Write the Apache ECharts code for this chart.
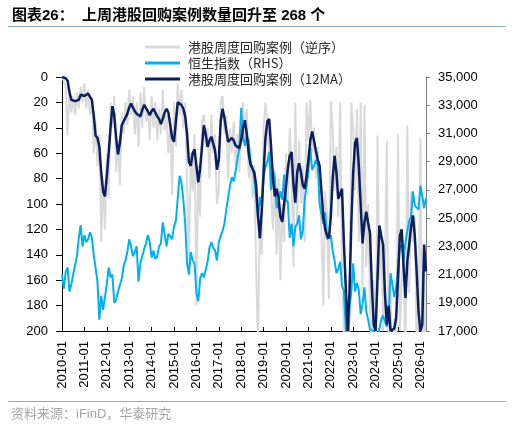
<!DOCTYPE html>
<html><head><meta charset="utf-8">
<script src="https://cdn.jsdelivr.net/npm/echarts@6/dist/echarts.min.js"></script>
<style>html,body{margin:0;padding:0;background:#fff}#c{width:519px;height:435px}</style>
</head><body><div id="c"></div>
<script>
// Month categories 2010-01 .. 2026-04
const months = [];
for (let y = 2010; y <= 2026; y++) {
  for (let m = 1; m <= 12; m++) {
    if (y === 2026 && m > 4) break;
    months.push(y + '-' + String(m).padStart(2, '0'));
  }
}

const seriesNames = ['港股周度回购案例（逆序）', '恒生指数（RHS）', '港股周度回购案例（12MA）'];

// weekly buyback cases (reverse axis), sampled monthly
const buybackCases = [
  0, 3, 8, 46, 10, 28, 15, 30, 12, 25, 8, 20,
  5, 25, 10, 30, 18, 60, 35, 70, 45, 130, 80, 120,
  60, 95, 20, 40, 15, 75, 50, 85, 30, 45, 20, 38,
  10, 30, 15, 45, 20, 55, 12, 40, 8, 35, 25, 50,
  15, 40, 20, 50, 25, 45, 10, 42, 30, 60, 35, 93,
  20, 55, 5, 30, 10, 40, 20, 85, 150, 60, 90, 45,
  180, 70, 110, 35, 30, 55, 40, 80, 30, 60, 45, 100,
  90, 20, 15, 45, 30, 80, 40, 60, 35, 70, 45, 75,
  30, 20, 50, 25, 80, 60, 95, 70, 150, 210, 110, 140,
  40, 20, 35, 60, 90, 120, 75, 140, 80, 160, 100, 130,
  60, 100, 40, 80, 150, 20, 120, 50, 100, 70, 130, 20,
  50, 18, 60, 40, 80, 55, 95, 120, 180, 90, 110, 175,
  19, 40, 90, 55, 110, 20, 150, 200, 230, 180, 210, 20,
  40, 90, 25, 130, 20, 170, 22, 150, 100, 180, 220, 160,
  240, 46, 160, 120, 200, 150, 50, 230, 160, 260, 190, 220,
  45, 200, 160, 140, 230, 38, 170, 90, 130, 110, 220, 190,
  48, 230, 140, 268
];

// Hang Seng Index (right axis)
const hsi = [
  21000, 20000, 21200, 21500, 19800, 20300, 21000, 20900, 22300, 23600, 24500, 23000,
  23800, 23300, 23500, 24000, 23600, 22400, 22400, 20500, 17800, 19500, 18500, 18400,
  20300, 21500, 20800, 21000, 19000, 19200, 19800, 19700, 20700, 21600, 22000, 22600,
  23500, 23000, 22300, 22600, 23000, 20500, 21800, 21700, 22800, 23200, 23800, 23300,
  22200, 22700, 22100, 22300, 23000, 23200, 24700, 24800, 23000, 23900, 23900, 23500,
  24400, 24800, 24800, 28000, 27500, 26300, 24600, 21800, 21000, 22600, 22000, 21800,
  19700, 19100, 20700, 21100, 20800, 20800, 21900, 22900, 23300, 22900, 22700, 22000,
  23300, 23700, 24100, 24600, 25600, 25700, 27300, 27900, 27600, 28300, 29200, 29900,
  32800, 30800, 30100, 30800, 30500, 29000, 28600, 27900, 27800, 25000, 26500, 25800,
  27900, 28600, 29000, 29700, 27000, 28500, 27800, 25700, 26100, 26900, 26300, 28100,
  26300, 26100, 23600, 24600, 23000, 24400, 24600, 25200, 23500, 24100, 26300, 27200,
  28300, 30000, 28400, 28700, 29100, 28800, 26000, 25900, 24600, 25400, 23500, 23400,
  23800, 22700, 22000, 21100, 21400, 21900, 20200, 19900, 17200, 14700, 18600, 19800,
  21800, 19800, 20400, 19900, 18200, 18900, 20100, 18400, 17800, 17100, 17000, 17000,
  15500, 16500, 16500, 17800, 18100, 17700, 17300, 18000, 21100, 20300, 19400, 20100,
  20200, 22900, 23100, 22100, 23300, 24100, 24800, 25100, 26900, 25900, 25900, 25600,
  27300, 26600, 25700, 26400
];

// 12-period moving average of buyback cases
const buybackMA = [
  0, 0, 1, 3, 12, 18, 19, 19, 20, 18, 14, 15,
  15, 14, 13, 14, 18, 30, 46, 48, 55, 75, 90, 94,
  78, 60, 40, 23, 30, 48, 61, 52, 38, 35, 32, 29,
  24, 21, 22, 27, 29, 30, 31, 26, 22, 23, 27, 30,
  27, 25, 28, 31, 33, 37, 33, 28, 25, 28, 38, 48,
  51, 35, 20, 19, 22, 25, 31, 45, 67, 70, 60, 57,
  70, 83, 72, 55, 38, 45, 55, 50, 47, 48, 58, 73,
  65, 35, 25, 32, 42, 51, 52, 48, 50, 54, 55, 56,
  50, 40, 34, 45, 60, 69, 72, 75, 85, 110, 127, 105,
  75, 48, 35, 33, 55, 80, 94, 88, 95, 110, 114, 100,
  86, 72, 62, 59, 85, 99, 75, 68, 75, 85, 88, 78,
  65, 50, 43, 50, 58, 65, 70, 90, 110, 120, 125, 127,
  110, 80, 62, 75, 96, 92, 88, 130, 165, 200, 170, 115,
  75, 52, 48, 70, 100, 131, 115, 106, 115, 123, 165, 195,
  200, 160, 117, 125, 132, 170, 195, 180, 200, 200, 198, 190,
  159, 125, 120, 150, 174, 145, 132, 118, 109, 125, 153, 185,
  200, 195, 132, 153
];

const leftTicks = {min: 0, max: 200, step: 20};
const rightTicks = {min: 17000, max: 35000, step: 2000};

const FONT = '"Liberation Sans", Arial, "Noto Sans CJK SC", sans-serif';
const CJK = '"Noto Sans CJK SC", "Liberation Sans", sans-serif';
const yearTick = (i) => i % 12 === 0;

const chart = echarts.init(document.getElementById('c'), null, {renderer: 'canvas'});
chart.setOption({
  animation: false,
  backgroundColor: '#fff',
  textStyle: {fontFamily: FONT},
  grid: {left: 62, right: 93, top: 77, bottom: 104, containLabel: false},
  legend: {
    orient: 'vertical', left: 140, top: 34, itemWidth: 35, itemHeight: 3, itemGap: 0,
    icon: 'rect', data: seriesNames,
    textStyle: {fontSize: 13, color: '#262626', lineHeight: 16, fontFamily: CJK, padding: [0, 0, 0, 3]}
  },
  xAxis: {
    type: 'category', data: months, boundaryGap: false,
    axisLine: {onZero: false, lineStyle: {color: '#000', width: 1}},
    axisTick: {inside: true, length: 4, interval: yearTick, lineStyle: {color: '#000'}},
    axisLabel: {interval: yearTick, rotate: 90, margin: 10, fontSize: 13, color: '#000', fontFamily: FONT},
    splitLine: {show: false}
  },
  yAxis: [
    {
      type: 'value', inverse: true, min: leftTicks.min, max: leftTicks.max, interval: leftTicks.step,
      position: 'left',
      axisLine: {show: true, lineStyle: {color: '#000'}},
      axisTick: {show: true, length: 6, lineStyle: {color: '#000'}},
      axisLabel: {fontSize: 13, color: '#000', margin: 14, fontFamily: FONT},
      splitLine: {show: false}
    },
    {
      type: 'value', min: rightTicks.min, max: rightTicks.max, interval: rightTicks.step,
      position: 'right',
      axisLine: {show: true, lineStyle: {color: '#808080'}},
      axisTick: {show: true, length: 4, lineStyle: {color: '#808080'}},
      axisLabel: {fontSize: 13, color: '#000', margin: 12, fontFamily: FONT,
        formatter: (v) => v.toLocaleString('en-US')},
      splitLine: {show: false}
    }
  ],
  series: [
    {name: seriesNames[0], type: 'line', yAxisIndex: 0, data: buybackCases, symbol: 'none',
      clip: true, lineStyle: {color: '#D9D9D9', width: 2}, itemStyle: {color: '#D9D9D9'}, z: 1},
    {name: seriesNames[1], type: 'line', yAxisIndex: 1, data: hsi, symbol: 'none',
      clip: true, lineStyle: {color: '#00B0F0', width: 2}, itemStyle: {color: '#00B0F0'}, z: 2},
    {name: seriesNames[2], type: 'line', yAxisIndex: 0, data: buybackMA, symbol: 'none',
      clip: true, lineStyle: {color: '#0B1F5C', width: 2.5}, itemStyle: {color: '#0B1F5C'}, z: 3}
  ],
  graphic: [
    {type: 'text', x: 12, y: 16, style: {text: '图表26：', fontSize: 15, fontWeight: 'bold',
      fontFamily: FONT, fill: '#000', verticalAlign: 'middle'}},
    {type: 'text', x: 82, y: 16, style: {text: '上周港股回购案例数量回升至 268 个', fontSize: 15, fontWeight: 'bold',
      fontFamily: FONT, fill: '#000', verticalAlign: 'middle'}},
    {type: 'line', shape: {x1: 8, y1: 26.5, x2: 506, y2: 26.5}, style: {stroke: '#8EAACB', lineWidth: 1}},
    {type: 'line', shape: {x1: 8, y1: 401.5, x2: 506, y2: 401.5}, style: {stroke: '#8EAACB', lineWidth: 1}},
    {type: 'text', x: 11, y: 414, style: {text: '资料来源：iFinD，华泰研究', fontSize: 13,
      fontFamily: FONT, fill: '#A6A6A6', verticalAlign: 'middle'}}
  ]
});
</script>
</body></html>
